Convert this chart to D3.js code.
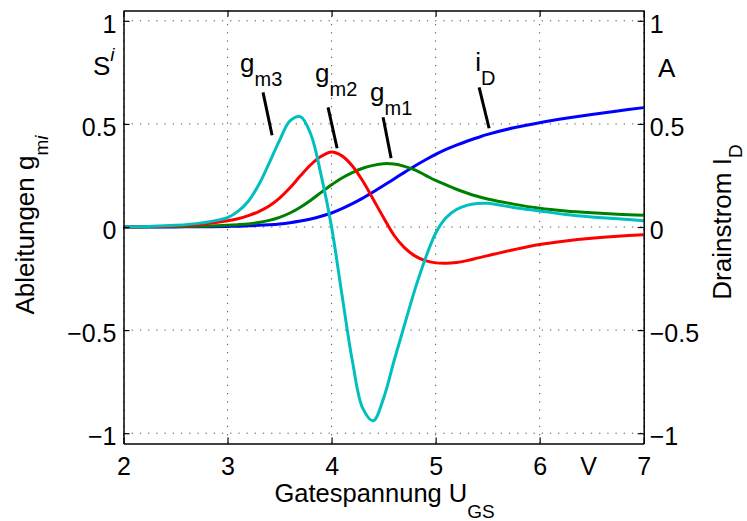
<!DOCTYPE html>
<html>
<head>
<meta charset="utf-8" />
<title>Ableitungen g_mi</title>
<style>
body { margin: 0; background: #fff; }
svg text { font-family: "Liberation Sans", Arial, Helvetica, sans-serif; fill: #000; }
</style>
</head>
<body>
<div id="chart"></div>
<script src="https://cdn.jsdelivr.net/npm/d3@7"></script>
<script>
// Gatespannung U_GS in V
var uGS = [2, 2.25, 2.5, 2.75, 3.0, 3.1, 3.2, 3.3, 3.4, 3.5, 3.6, 3.7, 3.8, 3.9, 4.0,
           4.1, 4.2, 4.3, 4.4, 4.5, 4.6, 4.7, 4.8, 4.9, 5.0, 5.1, 5.2, 5.3, 5.4, 5.5,
           5.75, 6.0, 6.25, 6.5, 6.75, 7.0];
// Drainstrom i_D (right axis, A)
var iD  = [0, 0, 0.0005, 0.001, 0.003, 0.004, 0.006, 0.008, 0.011, 0.015, 0.021, 0.029, 0.039, 0.052, 0.068,
           0.089, 0.113, 0.14, 0.17, 0.201, 0.233, 0.265, 0.296, 0.325, 0.352, 0.376, 0.397, 0.416, 0.433, 0.449,
           0.481, 0.506, 0.527, 0.546, 0.563, 0.579];
// Ableitungen
var gm1 = [0, 0.001, 0.002, 0.004, 0.008, 0.011, 0.015, 0.022, 0.032, 0.047, 0.068, 0.096, 0.13, 0.168, 0.205,
           0.238, 0.264, 0.285, 0.299, 0.307, 0.305, 0.294, 0.277, 0.252, 0.226, 0.204, 0.183, 0.165, 0.149, 0.136,
           0.111, 0.091, 0.078, 0.069, 0.062, 0.057];
var gm2 = [0, 0.002, 0.005, 0.013, 0.03, 0.04, 0.055, 0.075, 0.102, 0.14, 0.19, 0.248, 0.302, 0.343, 0.364,
           0.345, 0.296, 0.223, 0.135, 0.045, -0.04, -0.1, -0.14, -0.163, -0.174, -0.176, -0.172, -0.163, -0.151, -0.139,
           -0.11, -0.085, -0.068, -0.055, -0.045, -0.037];
var gm3 = [0.001, 0.003, 0.008, 0.02, 0.045, 0.076, 0.125, 0.205, 0.31, 0.42, 0.515, 0.535, 0.45, 0.25, 0.0,
           -0.33, -0.65, -0.88, -0.94, -0.83, -0.65, -0.476, -0.305, -0.155, -0.03, 0.045, 0.085, 0.105, 0.114, 0.115,
           0.095, 0.078, 0.061, 0.049, 0.04, 0.03];

var xTicks = [2, 3, 4, 5, 6, 7];
var yTicks = [-1, -0.5, 0, 0.5, 1];

// curve labels: text anchor point and pointer line, in data units
var labels = [
  {main: "g", sub: "m3", tx: 3.12, ty: 0.75, x1: 3.341, y1: 0.653, x2: 3.428, y2: 0.445},
  {main: "g", sub: "m2", tx: 3.841, ty: 0.704, x1: 3.966, y1: 0.58, x2: 4.053, y2: 0.382},
  {main: "g", sub: "m1", tx: 4.37, ty: 0.612, x1: 4.495, y1: 0.532, x2: 4.572, y2: 0.334},
  {main: "i", sub: "D", tx: 5.38, ty: 0.759, x1: 5.418, y1: 0.677, x2: 5.514, y2: 0.479}
];

var series = [
  {vals: iD, color: "#0000ff"},
  {vals: gm1, color: "#008000"},
  {vals: gm2, color: "#ff0000"},
  {vals: gm3, color: "#00bfbf"}
];

var W = 747, H = 521;
var x = d3.scaleLinear().domain([2, 7]).range([123.5, 643.7]);
var y = d3.scaleLinear().domain([-1.05, 1.05]).range([443.5, 10.5]);
var y2 = d3.scaleLinear().domain([-1.05, 1.05]).range([443.5, 10.5]);

var svg = d3.select("#chart").append("svg")
  .attr("width", W).attr("height", H);

function fmt(d) { return d < 0 ? "\u2212" + Math.abs(d) : "" + d; }

// dotted grid
var grid = svg.append("g").attr("stroke", "#555").attr("stroke-width", 1)
  .attr("stroke-dasharray", "1.3,6.9");
grid.selectAll("line.gx").data(xTicks).enter().append("line")
  .attr("x1", function(d){ return x(d); }).attr("x2", function(d){ return x(d); })
  .attr("y1", y(-1.05)).attr("y2", y(1.05));
grid.selectAll("line.gy").data(yTicks).enter().append("line")
  .attr("y1", function(d){ return y(d); }).attr("y2", function(d){ return y(d); })
  .attr("x1", x(2)).attr("x2", x(7));

// curves
var line = d3.line()
  .x(function(d, i){ return x(uGS[i]); })
  .y(function(d){ return y(d); })
  .curve(d3.curveCatmullRom.alpha(0.5));

svg.selectAll("path.curve").data(series).enter().append("path")
  .attr("class", "curve")
  .attr("fill", "none")
  .attr("stroke", function(d){ return d.color; })
  .attr("stroke-width", 3)
  .attr("stroke-linejoin", "round")
  .attr("d", function(d){ return line(d.vals); });

// axes, ticks pointing inward
var axB = svg.append("g").attr("transform", "translate(0," + y(-1.05) + ")")
  .call(d3.axisBottom(x).tickValues(xTicks).tickFormat(fmt).tickSizeInner(-6).tickSizeOuter(0).tickPadding(14));
var axT = svg.append("g").attr("transform", "translate(0," + y(1.05) + ")")
  .call(d3.axisTop(x).tickValues(xTicks).tickFormat("").tickSizeInner(-6).tickSizeOuter(0));
var axL = svg.append("g").attr("transform", "translate(" + x(2) + ",0)")
  .call(d3.axisLeft(y).tickValues(yTicks).tickFormat(fmt).tickSizeInner(-6).tickSizeOuter(0).tickPadding(7));
var axR = svg.append("g").attr("transform", "translate(" + x(7) + ",0)")
  .call(d3.axisRight(y2).tickValues(yTicks).tickFormat(fmt).tickSizeInner(-6).tickSizeOuter(0).tickPadding(6));

[axB, axT, axL, axR].forEach(function(a) {
  a.select(".domain").attr("stroke", "#000").attr("stroke-width", 1.5);
  a.selectAll(".tick line").attr("stroke", "#000").attr("stroke-width", 1.2);
  a.selectAll("text").attr("font-size", 25).attr("font-family", null).attr("fill", "#000");
});
axL.selectAll("text").attr("dy", "0.45em");
axR.selectAll("text").attr("dy", "0.45em");

// units
svg.append("text").attr("x", x(6.47)).attr("y", 475).attr("text-anchor", "middle")
  .attr("font-size", 25).text("V");
var si = svg.append("text").attr("x", 93).attr("y", 75).attr("font-size", 26);
si.append("tspan").text("S");
si.append("tspan").attr("dy", -14).attr("font-size", 19).attr("font-style", "italic").text("i");
svg.append("text").attr("x", 658).attr("y", 77).attr("font-size", 26).text("A");

// axis titles
var xl = svg.append("text").attr("x", (x(2) + x(7)) / 2 + 1).attr("y", 502)
  .attr("text-anchor", "middle").attr("font-size", 25.5);
xl.append("tspan").text("Gatespannung U");
xl.append("tspan").attr("dy", 16).attr("font-size", 19).text("GS");

var yl = svg.append("text").attr("transform", "translate(34," + (y(0) - 2) + ") rotate(-90)")
  .attr("text-anchor", "middle").attr("font-size", 26);
yl.append("tspan").text("Ableitungen g");
yl.append("tspan").attr("dy", 14).attr("font-size", 19).text("m");
yl.append("tspan").attr("font-size", 19).attr("font-style", "italic").text("i");

var yr = svg.append("text").attr("transform", "translate(731," + (y(0) - 5) + ") rotate(-90)")
  .attr("text-anchor", "middle").attr("font-size", 26);
yr.append("tspan").text("Drainstrom I");
yr.append("tspan").attr("dy", 11).attr("font-size", 19).text("D");

// curve labels with pointers
var lab = svg.selectAll("g.lab").data(labels).enter().append("g").attr("class", "lab");
lab.append("line")
  .attr("x1", function(d){ return x(d.x1); }).attr("y1", function(d){ return y(d.y1); })
  .attr("x2", function(d){ return x(d.x2); }).attr("y2", function(d){ return y(d.y2); })
  .attr("stroke", "#000").attr("stroke-width", 3);
var lt = lab.append("text")
  .attr("x", function(d){ return x(d.tx); }).attr("y", function(d){ return y(d.ty); })
  .attr("font-size", 26);
lt.append("tspan").text(function(d){ return d.main; });
lt.append("tspan").attr("dy", 14).attr("font-size", 20).text(function(d){ return d.sub; });
</script>
</body>
</html>
